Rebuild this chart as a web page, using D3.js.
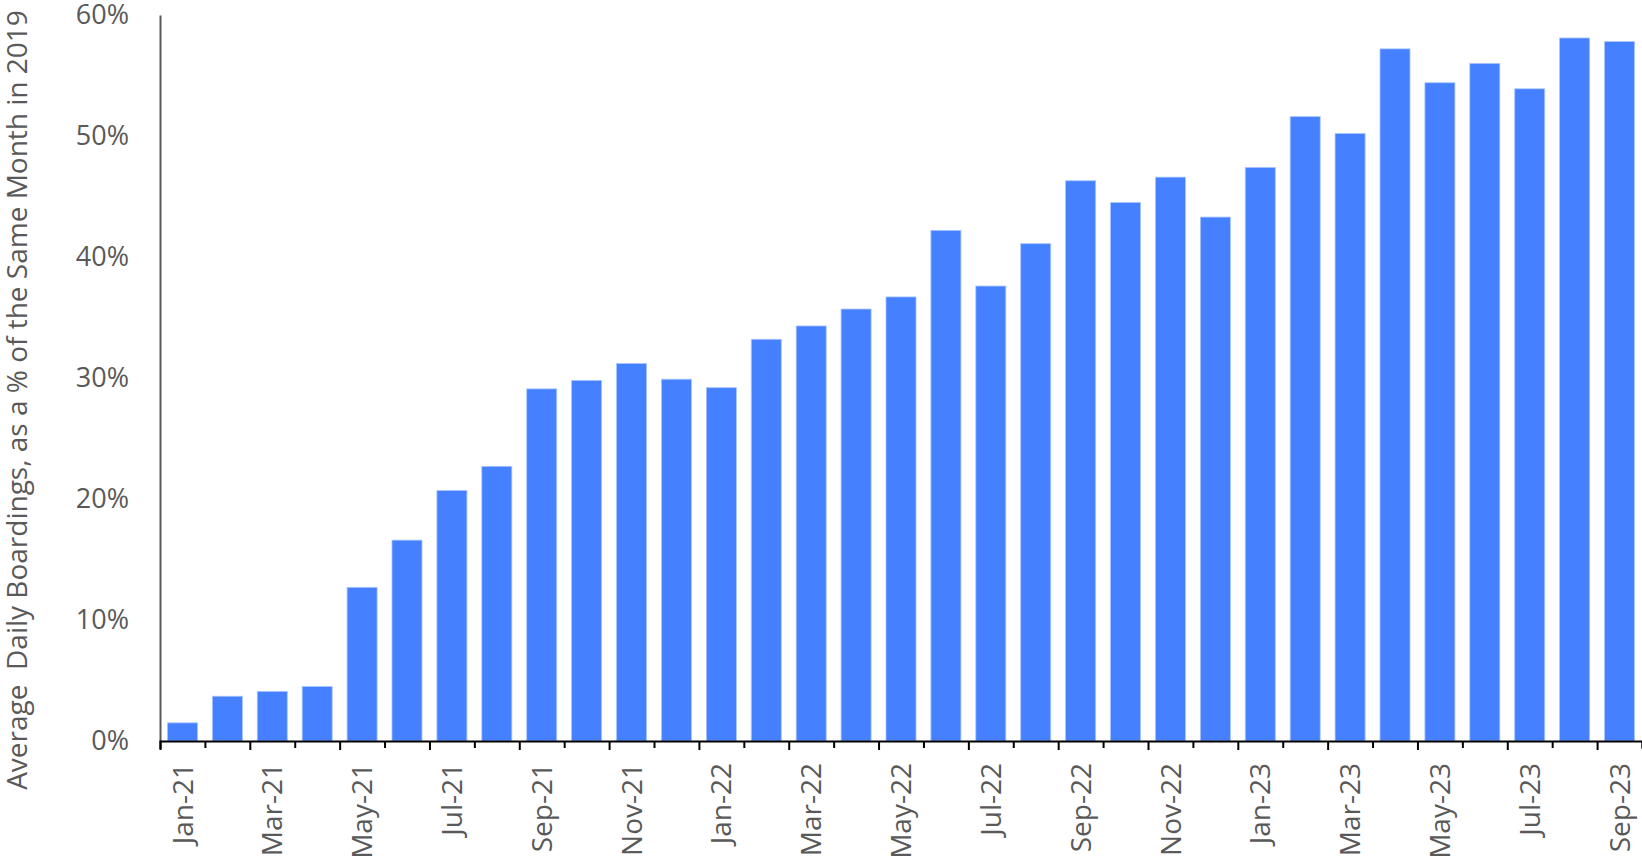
<!DOCTYPE html>
<html>
<head>
<meta charset="utf-8">
<script src="https://cdn.jsdelivr.net/npm/d3@7"></script>
<style>
html,body{margin:0;padding:0;background:#fff;}
svg{display:block;}
text{font-family:"Open Sans",sans-serif;fill:#595959;}
</style>
</head>
<body>
<svg id="chart" width="1642" height="861"></svg>
<script>
const months = ["Jan-21","Feb-21","Mar-21","Apr-21","May-21","Jun-21","Jul-21","Aug-21","Sep-21","Oct-21","Nov-21","Dec-21",
"Jan-22","Feb-22","Mar-22","Apr-22","May-22","Jun-22","Jul-22","Aug-22","Sep-22","Oct-22","Nov-22","Dec-22",
"Jan-23","Feb-23","Mar-23","Apr-23","May-23","Jun-23","Jul-23","Aug-23","Sep-23"];
const values = [0.015,0.037,0.041,0.045,0.127,0.166,0.207,0.227,0.291,0.298,0.312,0.299,
0.292,0.332,0.343,0.357,0.367,0.422,0.376,0.411,0.463,0.445,0.466,0.433,
0.474,0.516,0.502,0.572,0.544,0.560,0.539,0.581,0.578];
const yTicks = [0,0.1,0.2,0.3,0.4,0.5,0.6];
const labelMonths = months.filter((d,i)=>i%2===0);
const yTitle = "Average  Daily Boardings, as a % of the Same Month in 2019";

const svg = d3.select("#chart");
const mLeft = 160, mRight = 1642, mTop = 15, mBottom = 741;

const p = 1 - 30/44.9;
const x = d3.scaleBand().domain(months).range([mLeft,mRight]).paddingInner(p).paddingOuter(p/2);
const y = d3.scaleLinear().domain([0,0.6]).range([mBottom,mTop]);
const xb = d3.scaleLinear().domain([0,months.length]).range([mLeft,mRight]);

// bars
svg.append("g").selectAll("rect").data(values).join("rect")
  .attr("x",(d,i)=>x(months[i]))
  .attr("width",x.bandwidth())
  .attr("y",d=>y(d))
  .attr("height",d=>y(0)-y(d))
  .attr("fill","#4480ff")
  .attr("stroke","#a8c4ff")
  .attr("stroke-width",0.8);

// y axis
const ya = svg.append("g").attr("transform",`translate(${mLeft},0)`)
  .call(d3.axisLeft(y).tickValues(yTicks).tickFormat(d3.format(".0%")).tickSize(0).tickPadding(31));
ya.select(".domain").attr("stroke","#595959").attr("stroke-width",2);
ya.selectAll("text").style("font-size","27px").attr("fill","#595959").style("font-family","'Open Sans',sans-serif");

// x axis boundary ticks
const xt = svg.append("g").attr("transform",`translate(0,${mBottom})`)
  .call(d3.axisBottom(xb).tickValues(d3.range(0,months.length+1)).tickFormat("").tickSizeOuter(0).tickSize(8));
xt.selectAll(".tick line").attr("stroke","#000").attr("stroke-width",2)
  .attr("y2",(d)=> d%2===0 ? 9 : 7);
xt.select(".domain").attr("stroke","#000").attr("stroke-width",2);

// x labels
const xl = svg.append("g").attr("transform",`translate(0,${mBottom})`)
  .call(d3.axisBottom(x).tickValues(labelMonths).tickSize(0).tickSizeOuter(0));
xl.select(".domain").remove();
xl.selectAll("text")
  .attr("transform","rotate(-90)")
  .attr("x",-22).attr("y",0).attr("dy","0.36em")
  .attr("text-anchor","end")
  .style("font-size","28px").attr("fill","#595959").style("font-family","'Open Sans',sans-serif");

// y title
svg.append("text")
  .attr("transform","translate(27,400) rotate(-90)")
  .attr("text-anchor","middle")
  .style("font-size","28px")
  .style("white-space","pre")
  .attr("xml:space","preserve")
  .text(yTitle);
</script>
</body>
</html>
